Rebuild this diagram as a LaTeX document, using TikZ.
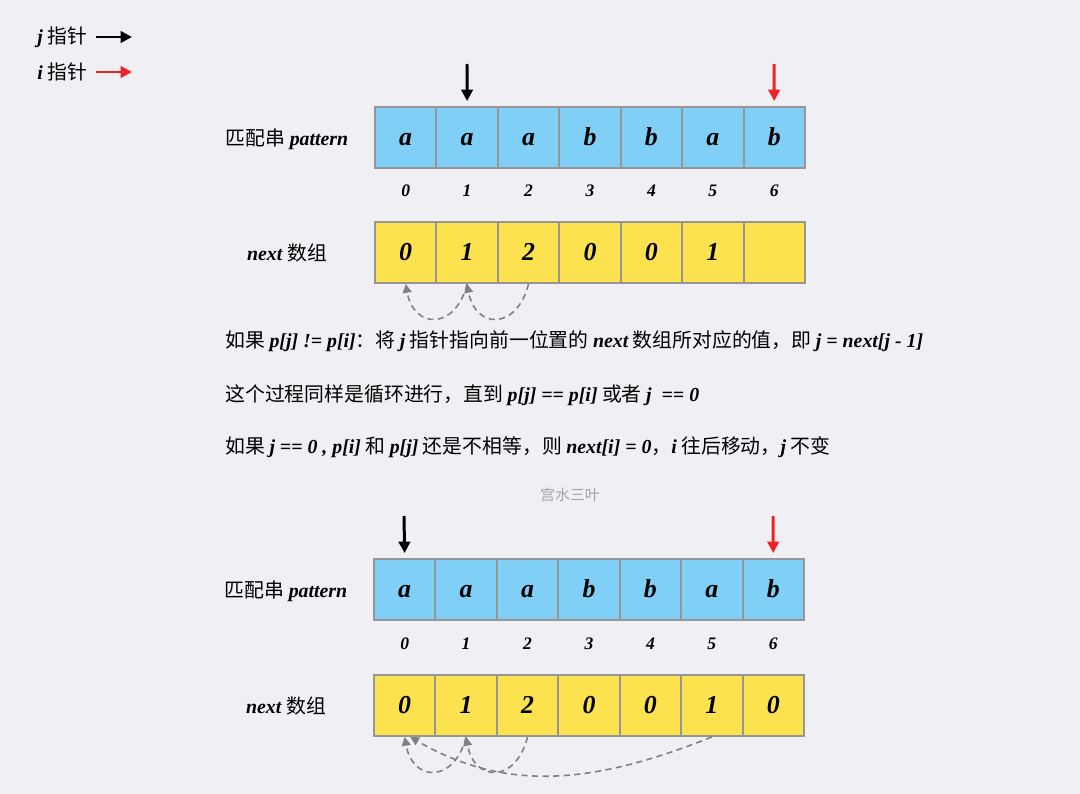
\documentclass[tikz,border=0pt]{standalone}
\usepackage{fontspec}
\setmainfont{Liberation Serif}
\newfontfamily\cjk{Noto Sans CJK SC}
\usetikzlibrary{arrows.meta, positioning}
\definecolor{BgColor}{RGB}{240,239,244}
\definecolor{CellBlue}{RGB}{127,207,247}
\definecolor{CellYellow}{RGB}{252,226,78}
\definecolor{BorderGray}{RGB}{150,150,150}
\definecolor{JumpGray}{RGB}{128,128,128}
\definecolor{PtrRed}{RGB}{238,36,36}
\definecolor{MarkGray}{RGB}{165,165,165}
\newcommand{\lat}[1]{{\rmfamily\bfseries\itshape #1}}
\newcommand{\txtfont}{\fontsize{11.3pt}{13pt}\selectfont}
\newcommand{\cellfont}{\fontsize{14.7pt}{16pt}\selectfont\bfseries\itshape}
\newcommand{\idxfont}{\fontsize{10pt}{12pt}\selectfont\bfseries\itshape}
\tikzstyle{cell} = [rectangle, draw=BorderGray, line width=1.1pt, minimum width=1.228cm, minimum height=1.22cm, inner sep=0pt, text height=0.95em, text depth=0pt, font=\cellfont]
\tikzstyle{pcell} = [cell, fill=CellBlue]
\tikzstyle{ncell} = [cell, fill=CellYellow]
\tikzstyle{idx} = [font=\idxfont]
\tikzstyle{lbl} = [font=\txtfont]
\tikzstyle{txtline} = [anchor=west, font=\txtfont, inner sep=0pt]
\tikzstyle{wmark} = [font=\fontsize{8.5pt}{10pt}\selectfont, text=MarkGray]
\tikzstyle{jptr} = [line width=1.7pt, black, -{Triangle[length=6.5pt,width=6.5pt]}]
\tikzstyle{iptr} = [jptr, PtrRed]
\tikzstyle{jump} = [JumpGray, line width=0.9pt, dash pattern=on 3.5pt off 2.5pt, -{Triangle[length=5pt,width=5pt]}]

\begin{document}
\begin{tikzpicture}[x=0.02cm, y=-0.02cm]
    \fill[BgColor] (0,0) rectangle (1080,794);
    \useasboundingbox (0,0) rectangle (1080,794);

    % Legend
    \node[lbl, anchor=east, inner sep=0pt] (jlab) at (88,37) {\lat{j} \cjk 指针};
    \node[lbl, anchor=east, inner sep=0pt] (ilab) at (88,72) {\lat{i} \cjk 指针};
    \draw[jptr] ([xshift=0.16cm]jlab.east) -- ++(36,0);
    \draw[iptr] ([xshift=0.16cm]ilab.east) -- ++(36,0);

    % Pattern and next (before)
    \foreach \c [count=\k from 0] in {a,a,a,b,b,a,b}
        \node[pcell] (pa\k) at ({405.7+61.43*\k},137.5) {\c};
    \foreach \k in {0,...,6}
        \node[idx] (ia\k) at ({405.7+61.43*\k},191) {\k};
    \foreach \v [count=\k from 0] in {0,1,2,0,0,1,{}}
        \node[ncell] (na\k) at ({405.7+61.43*\k},252.5) {\v};
    \node[lbl] (patA) at (287,139) {\cjk 匹配串 \lat{pattern}};
    \node[lbl] (nexA) at (287,253) {\lat{next} \cjk 数组};
    \coordinate (jA) at (467,64);
    \coordinate (iA) at (774,64);
    \draw[jptr, shorten >=0.1cm] (jA) -- (pa1.north);
    \draw[iptr, shorten >=0.1cm] (iA) -- (pa6.north);
    \draw[jump] (na2.south) .. controls +(-12,47) and +(8,45) .. (na1.south);
    \draw[jump] (na1.south) .. controls +(-12,47) and +(8,45) .. (na0.south);

    % Explanation
    \node[txtline] (t1) at (225,341) {\cjk 如果 \lat{p[j] != p[i]}：将 \lat{j} 指针指向前一位置的 \lat{next} 数组所对应的值，即 \lat{j = next[j - 1]}};
    \node[txtline] (t2) at (225,395) {\cjk 这个过程同样是循环进行，直到 \lat{p[j] == p[i]} 或者 \lat{j\ \ == 0}};
    \node[txtline] (t3) at (225,447) {\cjk 如果 \lat{j == 0 , p[i]} 和 \lat{p[j]} 还是不相等，则 \lat{next[i] = 0}，\lat{i} 往后移动，\lat{j} 不变};
    \node[wmark] (wm) at (570,495) {\cjk 宫水三叶};

    % Pattern and next (after)
    \foreach \c [count=\k from 0] in {a,a,a,b,b,a,b}
        \node[pcell] (pb\k) at ({404.7+61.43*\k},589.5) {\c};
    \foreach \k in {0,...,6}
        \node[idx] (ib\k) at ({404.7+61.43*\k},644) {\k};
    \foreach \v [count=\k from 0] in {0,1,2,0,0,1,0}
        \node[ncell] (nb\k) at ({404.7+61.43*\k},705.5) {\v};
    \node[lbl] (patB) at (286,591) {\cjk 匹配串 \lat{pattern}};
    \node[lbl] (nexB) at (286,706) {\lat{next} \cjk 数组};
    \coordinate (jB) at (404,516);
    \coordinate (iB) at (773,516);
    \draw[jptr, shorten >=0.1cm] (jB) -- (pb0.north);
    \draw[iptr, shorten >=0.1cm] (iB) -- (pb6.north);
    \draw[jump] (nb2.south) .. controls +(-12,47) and +(8,45) .. (nb1.south);
    \draw[jump] (nb1.south) .. controls +(-12,47) and +(8,45) .. (nb0.south);
    \draw[jump] (nb5.south) .. controls +(-120,48) and +(95,55) .. (nb0.-80);
\end{tikzpicture}
\end{document}
